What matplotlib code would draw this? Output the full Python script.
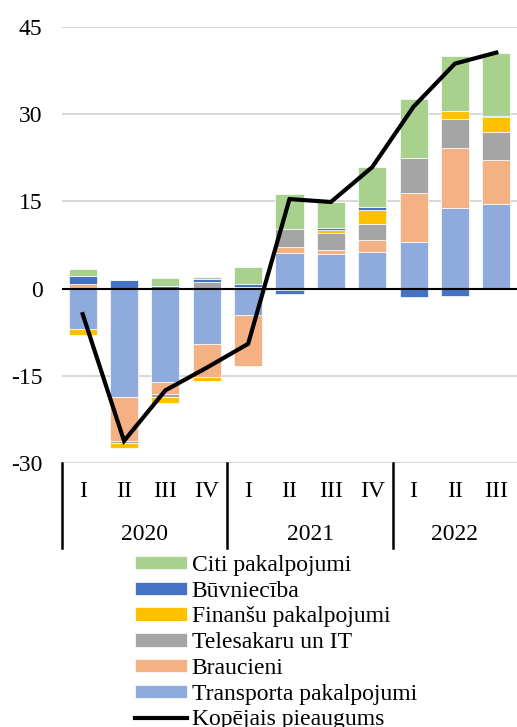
import numpy as np
import matplotlib.pyplot as plt
from matplotlib.lines import Line2D

plt.rcParams['font.family'] = ['Liberation Serif', 'DejaVu Serif']

# dati
ceturksni = ['I', 'II', 'III', 'IV', 'I', 'II', 'III', 'IV', 'I', 'II', 'III']
gadi = ['2020', '2021', '2022']
gadu_garums = [4, 4, 3]

transports = [-6.9, -18.7, -16.0, -9.6, -4.5, 6.15, 5.9, 6.3, 8.1, 13.9, 14.5]
braucieni = [0.8, -7.6, -2.2, -5.6, -8.9, 0.95, 0.75, 2.0, 8.3, 10.3, 7.6]
telesakari = [0.0, -0.2, -0.4, 1.2, 0.0, 3.2, 3.0, 2.8, 6.0, 4.9, 4.9]
finansu = [-1.1, -1.0, -1.1, -0.7, 0.2, -0.2, 0.5, 2.5, 0.0, 1.4, 2.5]
buvnieciba = [1.4, 1.55, 0.4, 0.5, 0.6, -0.7, 0.2, 0.4, -1.5, -1.3, 0.2]
citi = [1.2, 0.0, 1.5, 0.3, 2.9, 5.9, 4.5, 6.85, 10.3, 9.45, 10.85]
kopejais = [-4.4, -26.2, -17.5, -13.6, -9.5, 15.4, 14.9, 20.9, 31.3, 38.7, 40.6]

serijas = [
    ('Transporta pakalpojumi', transports, '#8FAADC'),
    ('Braucieni', braucieni, '#F4B183'),
    ('Telesakaru un IT', telesakari, '#A5A5A5'),
    ('Finanšu pakalpojumi', finansu, '#FFC000'),
    ('Būvniecība', buvnieciba, '#4472C4'),
    ('Citi pakalpojumi', citi, '#A9D18E'),
]

fig = plt.figure(figsize=(5.17, 7.27), dpi=100)
ax = fig.add_axes([62 / 517, 1 - 463 / 727, 455 / 517, 436 / 727])

x = np.arange(len(ceturksni))
poz = np.zeros(len(x))
neg = np.zeros(len(x))
rokturi = []
for nosaukums, vertibas, krasa in serijas:
    v = np.array(vertibas)
    apaksa = np.where(v >= 0, poz, neg)
    b = ax.bar(x, v, 0.68, bottom=apaksa, color=krasa, edgecolor='white',
               linewidth=0.5, label=nosaukums, zorder=2)
    rokturi.append(b)
    poz = poz + np.where(v >= 0, v, 0)
    neg = neg + np.where(v < 0, v, 0)

ax.axhline(0, color='black', lw=1.5, zorder=3)
linija, = ax.plot(x, kopejais, color='black', lw=3, zorder=4,
                  solid_joinstyle='miter', label='Kopējais pieaugums')

ax.set_xlim(-0.5, len(x) - 0.5)
ax.set_ylim(-30, 45)
ax.set_yticks([-30, -15, 0, 15, 30, 45])
ax.set_yticklabels(['-30', '-15', '0', '15', '30', '45'])
ax.yaxis.grid(True, color='#D9D9D9', lw=1.5, zorder=0)
ax.set_axisbelow(True)
for s in ax.spines.values():
    s.set_visible(False)
ax.tick_params(axis='y', length=0, pad=14, labelsize=17)
ax.set_xticks([])

# kategoriju ass ar ceturkšņiem un gadiem
tr = ax.get_xaxis_transform()
for i, c in enumerate(ceturksni):
    ax.text(i, -0.065, c, transform=tr, ha='center', va='center', fontsize=17)
robezas = np.concatenate([[0], np.cumsum(gadu_garums)]) - 0.5
for r in robezas[:-1]:
    ax.add_line(Line2D([r, r], [0, -0.195], transform=tr, color='black',
                       lw=1.8, clip_on=False))
for g, a, b in zip(gadi, robezas[:-1], robezas[1:]):
    ax.text((a + b) / 2, -0.165, g, transform=tr, ha='center', va='center',
            fontsize=17)

hs = rokturi[::-1] + [linija]
fig.legend(hs, [h.get_label() for h in hs], loc='upper left',
           bbox_to_anchor=(135 / 517, 1 - 555 / 727), frameon=False,
           fontsize=17, borderpad=0, borderaxespad=0, handlelength=2.2,
           handleheight=0.5, handletextpad=0.2, labelspacing=0.2)

fig.savefig('out.png', dpi=100)
